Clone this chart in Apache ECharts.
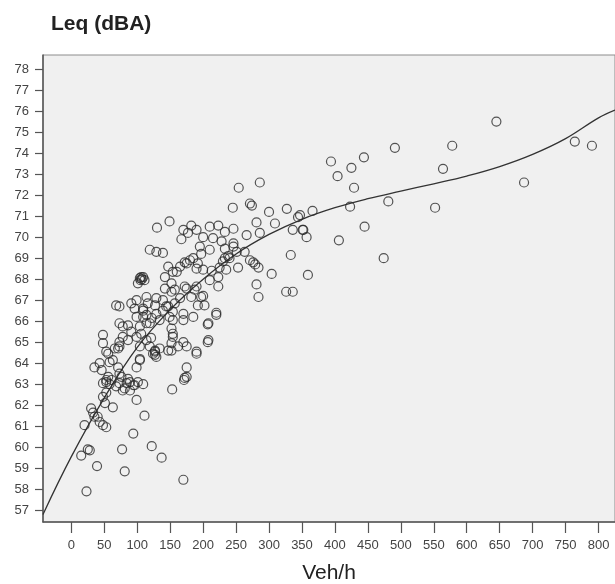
<!DOCTYPE html>
<html>
<head>
<meta charset="utf-8">
<script src="https://cdn.jsdelivr.net/npm/echarts@6/dist/echarts.min.js"></script>
<style>
html,body{margin:0;padding:0;background:#fff;}
#chart{width:615px;height:584px;}
</style>
</head>
<body>
<div id="chart"></div>
<script>
// Tick labels
var xTicks = [0,50,100,150,200,250,300,350,400,450,500,550,600,650,700,750,800];
var yTicks = [57,58,59,60,61,62,63,64,65,66,67,68,69,70,71,72,73,74,75,76,77,78];

var observations = [
 [23,57.9],[39,59.1],[15,59.6],[25,59.9],[28,59.85],[20,61.05],[30,61.85],[40,61.45],[48,61.05],[53,60.95],
 [43,61.2],[35,61.45],[63,61.9],[51,62.1],[48,62.4],[48,63.05],[53,63.1],[61,63.2],[56,63.35],[35,63.8],
 [43,64.0],[58,64.05],[53,64.55],[66,64.7],[48,65.35],[48,64.95],[33,61.65],[46,63.67],[56,64.45],[63,64.15],
 [71,63.8],[53,63.2],[58,63.0],[68,62.9],[53,62.6],[81,62.8],[99,62.25],[68,66.75],[73,65.9],
 [81,58.85],[77,59.9],[94,60.65],[111,61.5],[122,60.05],[137,59.5],[170,58.45],[153,62.75],[171,63.2],[175,63.8],
 [73,63.05],[84,63.05],[89,63.1],[96,62.95],[109,63.0],[78,62.7],[89,62.7],[76,63.35],[86,63.25],[73,63.5],
 [99,63.8],[104,64.2],[127,64.4],[94,62.95],[101,63.1],
 [73,64.8],[86,65.1],[99,65.25],[106,65.4],[114,65.1],[104,64.8],[119,64.8],[127,64.55],[129,64.3],[152,65.65],
 [154,65.25],[152,64.6],[162,64.8],[170,65.0],[175,64.8],[190,64.45],[208,65.1],[220,66.3],[208,65.9],[172,63.3],
 [78,65.75],[86,65.8],[91,65.5],[78,65.25],[109,66.6],[114,66.3],[122,66.15],[129,66.35],[134,66.05],
 [73,66.7],[91,66.85],[114,67.15],[129,67.1],[144,66.7],[157,66.85],
 [142,68.1],[152,67.8],[157,67.5],[165,67.1],[147,68.6],[160,68.35],[175,68.75],[185,69.0],[192,68.75],
 [104,68.05],[109,68.1],[101,67.8],[105,67.95],[107,68.0],
 [119,69.4],[129,69.3],[139,69.25],
 [130,70.45],[149,70.75],[170,70.35],[182,70.55],[190,70.35],[177,70.2],[167,69.9],[200,70.0],[210,70.5],[223,70.55],
 [233,70.25],[246,70.4],[215,69.95],[228,69.8],[246,69.7],
 [254,72.35],[286,72.6],[271,71.6],[274,71.5],[245,71.4],[300,71.2],[327,71.35],[344,70.95],[366,71.25],[281,70.7],
 [309,70.65],[336,70.35],[352,70.35],[357,70.0],[333,69.15],[326,67.4],[336,67.4],[304,68.25],[281,67.75],[284,67.15],
 [271,68.9],[279,68.7],[284,68.55],[276,68.8],[253,68.55],[225,68.55],[233,69.0],[238,69.1],[246,69.55],[263,69.3],
 [266,70.1],[286,70.2],[195,69.55],[210,69.4],[180,68.9],[190,68.5],[200,68.45],[213,68.4],[165,68.6],[172,68.8],
 [154,68.35],[106,68.1],[111,67.95],[172,67.65],[187,67.5],[200,67.2],[210,67.95],[223,68.1],[223,67.65],[142,67.55],
 [152,67.4],[147,66.7],[220,66.4],[207,65.85],[207,65.0],[175,63.35],
 [182,67.15],[197,67.15],[116,66.85],[127,66.75],[154,66.45],[170,66.35],[154,66.05],[170,66.05],[109,66.2],[119,65.9],
 [154,65.4],[152,64.95],[190,64.55],[127,64.6],[134,64.7],[104,64.15],
 [197,69.2],[233,69.45],[251,69.3],[230,68.85],[240,69.0],[235,68.45],[175,67.55],[190,67.65],[192,66.75],[202,66.75],
 [139,67.0],[139,66.5],[185,66.2],[149,66.2],[99,67.0],[96,66.6],[109,66.5],[99,66.2],
 [124,64.45],[121,65.2],[104,65.75],[114,65.9],[147,64.6],[71,64.7],[73,65.0],
 [394,73.6],[404,72.9],[425,73.3],[444,73.8],[429,72.35],[423,71.45],[347,71.05],[351,70.35],[406,69.85],[445,70.5],
 [359,68.2],[491,74.25],[481,71.7],[474,69.0],[552,71.4],[564,73.25],[578,74.35],[645,75.5],[687,72.6],[764,74.55],
 [790,74.35]
];

// Fitted curve, points
var fitVeh = [-43,0,50,100,150,200,250,300,350,400,450,500,550,600,650,700,750,800,825];
var fitLeq = [56.8,59.55,62.35,64.75,66.55,68.0,69.2,70.13,70.85,71.4,71.83,72.19,72.54,72.91,73.36,73.94,74.69,75.68,76.05];

var fitData = fitVeh.map(function(v,i){ return [v, fitLeq[i]]; });

var chart = echarts.init(document.getElementById('chart'), null, {renderer:'canvas'});
var labelFont = "'Liberation Sans',Arial,sans-serif";
chart.setOption({
  animation:false,
  backgroundColor:'#ffffff',
  title:{
    text:'Leq (dBA)', left:46, top:9,
    textStyle:{fontFamily:"'Liberation Sans',Arial,sans-serif", fontWeight:'bold', fontSize:21, color:'#222'}
  },
  grid:{left:43, right:0, top:55, bottom:62, containLabel:false, outerBoundsMode:'none',
        show:true, backgroundColor:'#f0f0f0', borderColor:'#8c8c8c', borderWidth:1},
  xAxis:{
    type:'value', min:-43, max:825,
    name:'Veh/h', nameLocation:'middle', nameGap:41,
    nameTextStyle:{fontFamily:labelFont, fontSize:21, color:'#222'},
    axisLine:{show:true, onZero:false, lineStyle:{color:'#555', width:1.5}},
    axisTick:{show:true, length:11, customValues:xTicks, lineStyle:{color:'#555', width:1.2}},
    axisLabel:{customValues:xTicks, margin:17, fontFamily:labelFont, fontSize:13, color:'#444'},
    splitLine:{show:false}
  },
  yAxis:{
    type:'value', min:56.44, max:78.67,
    axisLine:{show:true, onZero:false, lineStyle:{color:'#555', width:1.5}},
    axisTick:{show:true, length:8, customValues:yTicks, lineStyle:{color:'#555', width:1.2}},
    axisLabel:{customValues:yTicks, margin:14, fontFamily:labelFont, fontSize:13, color:'#444'},
    splitLine:{show:false}
  },
  series:[
    {
      type:'line', data:fitData, smooth:0.4, showSymbol:false, symbol:'none',
      lineStyle:{color:'#333', width:1.3}, z:2, silent:true
    },
    {
      type:'scatter', data:observations, symbol:'circle', symbolSize:9,
      itemStyle:{color:'rgba(0,0,0,0)', borderColor:'#2b2b2b', borderWidth:1.2}, z:3
    }
  ]
});
</script>
</body>
</html>
